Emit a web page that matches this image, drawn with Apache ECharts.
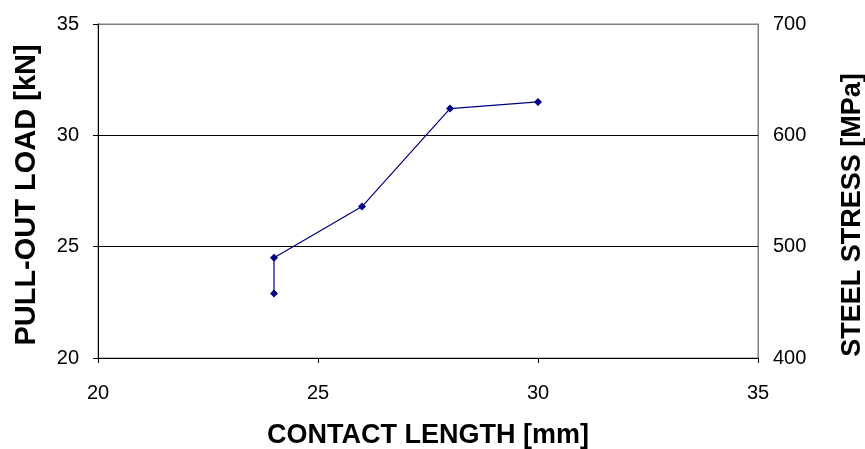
<!DOCTYPE html>
<html>
<head>
<meta charset="utf-8">
<script src="https://cdn.jsdelivr.net/npm/echarts@6/dist/echarts.min.js"></script>
<style>
  html, body { margin: 0; padding: 0; background: #fff; }
  #chart { width: 865px; height: 449px; }
</style>
</head>
<body>
<div id="chart"></div>
<script>
// Contact length [mm] vs pull-out load [kN]
const contactLength = [24, 24, 26, 28, 30];
const pullOutLoad = [22.9, 24.5, 26.8, 31.2, 31.5];

const xTicks = [20, 25, 30, 35];
const loadTicks = [20, 25, 30, 35];
const stressTicks = [400, 500, 600, 700];

const FONT = '"Liberation Sans", Arial, sans-serif';

const chart = echarts.init(document.getElementById('chart'), null, { renderer: 'canvas' });

const points = contactLength.map((x, i) => [x, pullOutLoad[i]]);

chart.setOption({
  animation: false,
  backgroundColor: '#fff',
  grid: {
    left: 98, right: 107, top: 24, bottom: 91,
    outerBoundsMode: 'none',
    containLabel: false,
    show: true, borderColor: '#808080', borderWidth: 1, backgroundColor: 'transparent'
  },
  xAxis: {
    type: 'value',
    min: xTicks[0], max: xTicks[xTicks.length - 1], interval: 5,
    name: 'CONTACT LENGTH [mm]',
    nameLocation: 'middle',
    nameGap: 64,
    nameTextStyle: { fontFamily: FONT, fontSize: 27, fontWeight: 'bold', color: '#000' },
    axisLine: { show: true, lineStyle: { color: '#000', width: 1 } },
    axisTick: { show: true, length: 5, lineStyle: { color: '#000' } },
    axisLabel: { margin: 25, fontFamily: FONT, fontSize: 20, color: '#000' },
    splitLine: { show: false }
  },
  yAxis: [
    {
      type: 'value',
      min: loadTicks[0], max: loadTicks[loadTicks.length - 1], interval: 5,
      name: 'PULL-OUT LOAD [kN]',
      nameLocation: 'middle',
      nameGap: 57,
      nameTextStyle: { fontFamily: FONT, fontSize: 29, fontWeight: 'bold', color: '#000', padding: [0, 8, 0, 0] },
      axisLine: { show: true, lineStyle: { color: '#000', width: 1 } },
      axisTick: { show: true, length: 5, lineStyle: { color: '#000' } },
      axisLabel: { margin: 19, fontFamily: FONT, fontSize: 20, color: '#000' },
      splitLine: { show: true, lineStyle: { color: ['#000', '#000', '#000', '#808080'], width: 1 } }
    },
    {
      type: 'value',
      position: 'right',
      min: stressTicks[0], max: stressTicks[stressTicks.length - 1], interval: 100,
      name: 'STEEL STRESS [MPa]',
      nameLocation: 'middle',
      nameGap: 81,
      nameTextStyle: { fontFamily: FONT, fontSize: 27, fontWeight: 'bold', color: '#000', padding: [0, 48, 0, 0] },
      axisLine: { show: true, lineStyle: { color: '#808080', width: 1 } },
      axisTick: { show: false },
      axisLabel: { margin: 15, fontFamily: FONT, fontSize: 20, color: '#000', padding: [0, 0, 6, 0] },
      splitLine: { show: false }
    }
  ],
  series: [
    {
      type: 'line',
      yAxisIndex: 0,
      data: points,
      symbol: 'diamond',
      symbolSize: 8,
      lineStyle: { color: '#000080', width: 1.2 },
      itemStyle: { color: '#000080' }
    }
  ]
});
</script>
</body>
</html>
